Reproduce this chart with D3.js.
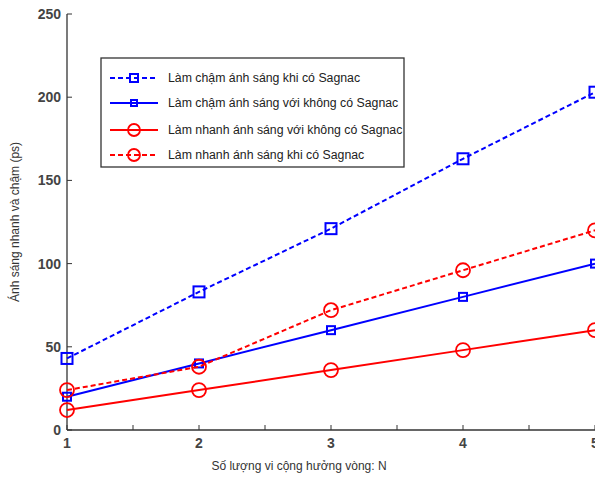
<!DOCTYPE html>
<html><head><meta charset="utf-8">
<script src="https://cdn.jsdelivr.net/npm/d3@7"></script>
<style>body{margin:0;background:#fff}svg{display:block}</style>
</head><body>
<script>
const N = [1, 2, 3, 4, 5];
const slowSagnac = [43, 83, 121, 163, 203];
const slowNoSagnac = [20, 40, 60, 80, 100];
const fastNoSagnac = [12, 24, 36, 48, 60];
const fastSagnac = [24, 38, 72, 96, 120];
const yTicks = [0, 50, 100, 150, 200, 250];
const xTicks = [1, 2, 3, 4, 5];
const xMinor = [1.5, 2.5, 3.5, 4.5];
const seriesNames = [
  "Làm chậm ánh sáng khi có Sagnac",
  "Làm chậm ánh sáng với không có Sagnac",
  "Làm nhanh ánh sáng với không có Sagnac",
  "Làm nhanh ánh sáng khi có Sagnac"
];
const xLabel = "Số lượng vi cộng hưởng vòng: N";
const yLabel = "Ánh sáng nhanh và chậm (ps)";

const series = [
  {name: seriesNames[0], values: slowSagnac, color: "#0000ff", dash: "5,3", marker: "square", size: 11},
  {name: seriesNames[1], values: slowNoSagnac, color: "#0000ff", dash: null, marker: "square", size: 8},
  {name: seriesNames[2], values: fastNoSagnac, color: "#ff0000", dash: null, marker: "circle", size: 7},
  {name: seriesNames[3], values: fastSagnac, color: "#ff0000", dash: "5,3", marker: "circle", size: 7}
];

const W = 595, H = 478;
const svg = d3.select("body").append("svg").attr("width", W).attr("height", H);
const x = d3.scaleLinear().domain([1, 5]).range([67, 595]);
const y = d3.scaleLinear().domain([0, 250]).range([430, 14]);
const font = "Liberation Sans, Arial, sans-serif";

// axes
const g = svg.append("g");
g.append("line").attr("x1", 67).attr("x2", W).attr("y1", 430).attr("y2", 430).attr("stroke", "#333").attr("stroke-width", 1.3);
g.append("line").attr("x1", 67).attr("x2", 67).attr("y1", 14).attr("y2", 430).attr("stroke", "#333").attr("stroke-width", 1.3);
yTicks.forEach(t => {
  g.append("line").attr("x1", 67).attr("x2", 72).attr("y1", y(t)).attr("y2", y(t)).attr("stroke", "#333");
  g.append("text").attr("x", 61).attr("y", y(t) + 5).attr("text-anchor", "end")
    .attr("font-family", font).attr("font-size", 14).attr("font-weight", "bold").attr("fill", "#444").text(t);
});
xTicks.concat(xMinor).forEach(t => {
  g.append("line").attr("x1", x(t)).attr("x2", x(t)).attr("y1", 430).attr("y2", 425).attr("stroke", "#333");
});
xTicks.forEach(t => {
  g.append("text").attr("x", x(t)).attr("y", 448).attr("text-anchor", "middle")
    .attr("font-family", font).attr("font-size", 14).attr("font-weight", "bold").attr("fill", "#444").text(t);
});
g.append("text").attr("x", 299).attr("y", 470).attr("text-anchor", "middle")
  .attr("font-family", font).attr("font-size", 12).attr("fill", "#333").text(xLabel);
g.append("text").attr("transform", "translate(19,222) rotate(-90)").attr("text-anchor", "middle")
  .attr("font-family", font).attr("font-size", 12).attr("fill", "#333").text(yLabel);

function drawMarker(sel, s, cx, cy) {
  if (s.marker === "square") {
    sel.append("rect").attr("x", cx - s.size/2).attr("y", cy - s.size/2).attr("width", s.size).attr("height", s.size)
      .attr("fill", "none").attr("stroke", s.color).attr("stroke-width", 2);
  } else {
    sel.append("circle").attr("cx", cx).attr("cy", cy).attr("r", s.size).attr("fill", "none").attr("stroke", s.color).attr("stroke-width", 1.8);
  }
}

const line = d3.line().x((d, i) => x(N[i])).y(d => y(d));
const plot = svg.append("g");
series.forEach(s => {
  plot.append("path").attr("d", line(s.values)).attr("fill", "none").attr("stroke", s.color)
    .attr("stroke-width", 2).attr("stroke-dasharray", s.dash);
  s.values.forEach((v, i) => drawMarker(plot, s, x(N[i]), y(v)));
});

// legend
const lg = svg.append("g");
lg.append("rect").attr("x", 101).attr("y", 58).attr("width", 303).attr("height", 109)
  .attr("fill", "#fff").attr("stroke", "#333").attr("stroke-width", 1.3);
const ly = [78, 103, 130, 155];
series.forEach((s, i) => {
  lg.append("line").attr("x1", 110).attr("x2", 158).attr("y1", ly[i]).attr("y2", ly[i])
    .attr("stroke", s.color).attr("stroke-width", 2).attr("stroke-dasharray", s.dash);
  const ms = Object.assign({}, s, {size: s.marker === "square" ? (i === 0 ? 8 : 6) : 6});
  drawMarker(lg, ms, 134, ly[i]);
  lg.append("text").attr("x", 168).attr("y", ly[i] + 4)
    .attr("font-family", font).attr("font-size", 12.3).attr("fill", "#222").text(s.name);
});
</script>
</body></html>
